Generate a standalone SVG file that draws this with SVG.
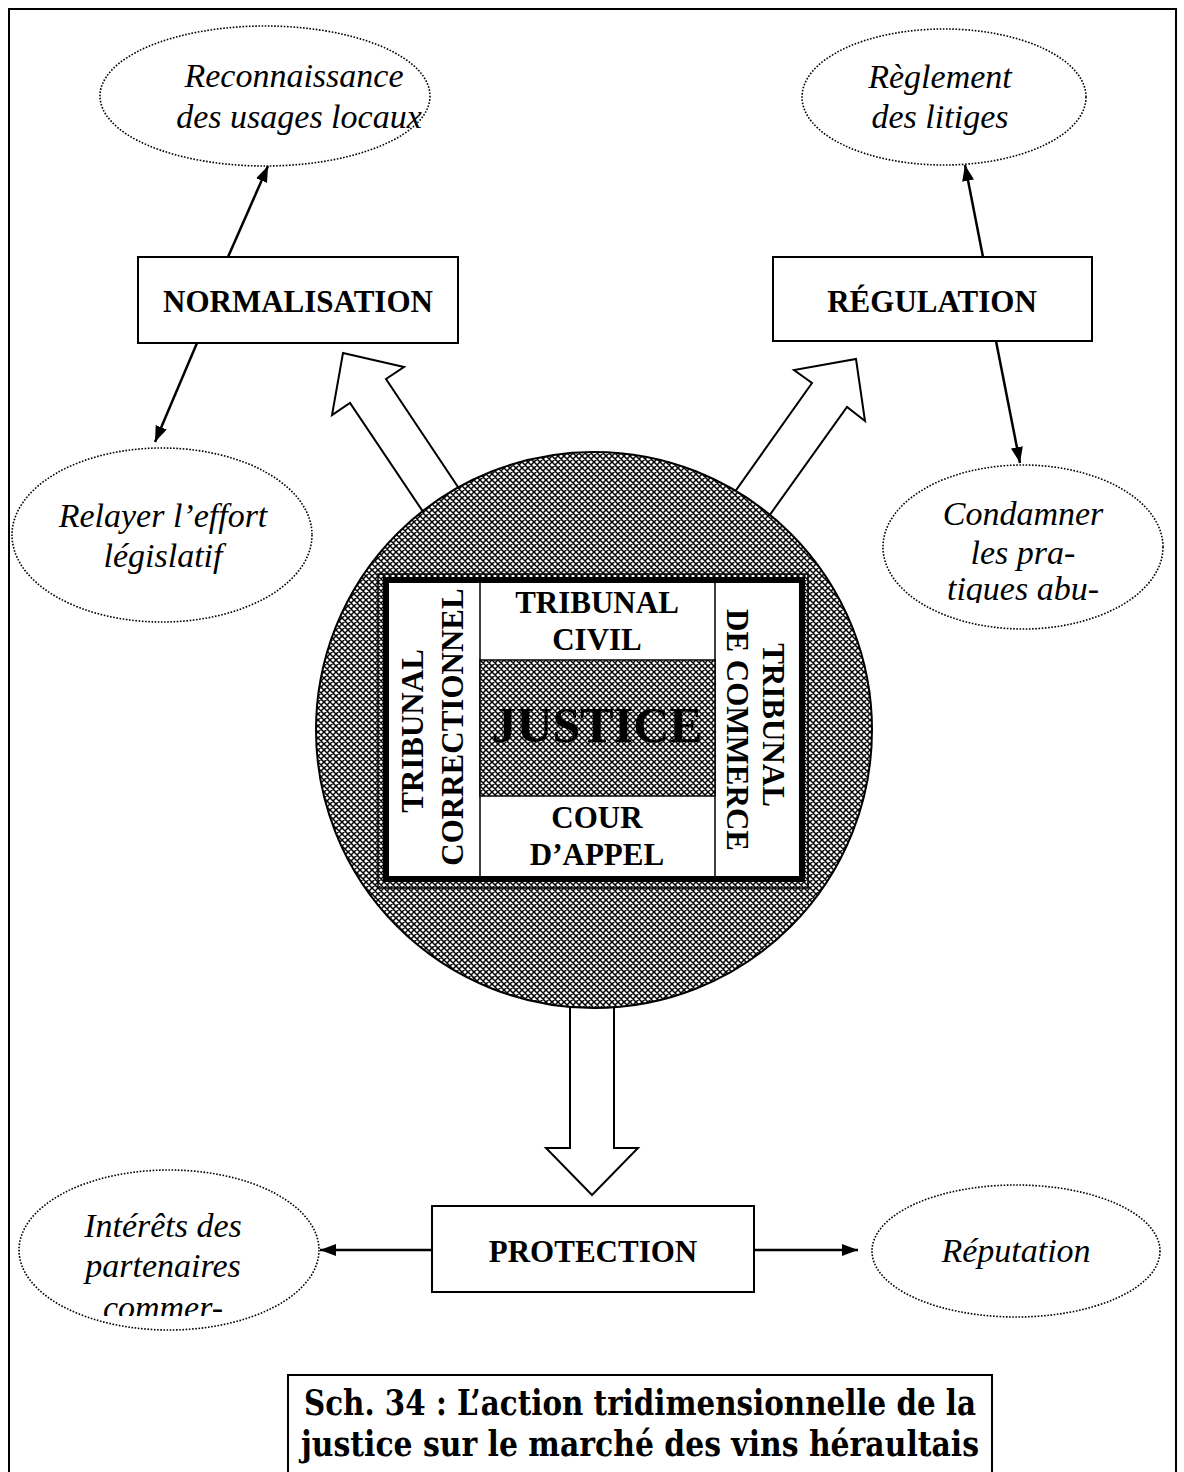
<svg xmlns="http://www.w3.org/2000/svg" width="1184" height="1472" viewBox="0 0 1184 1472">
<defs>
<pattern id="hatch" width="6" height="6" patternUnits="userSpaceOnUse">
<rect width="6" height="6" fill="#ffffff"/>
<path d="M0,0 L6,6 M6,0 L0,6 M-1,5 L1,7 M5,-1 L7,1 M-1,1 L1,-1 M5,7 L7,5" stroke="#000" stroke-width="1.5"/>
</pattern>
<marker id="ah" viewBox="0 0 16 12" refX="16" refY="6" markerWidth="16" markerHeight="12" markerUnits="userSpaceOnUse" orient="auto">
<path d="M0,0 L16,6 L0,12 z" fill="#000"/>
</marker>
<clipPath id="clipCond"><rect x="860" y="440" width="320" height="163"/></clipPath>
<clipPath id="clipInt"><rect x="0" y="1150" width="340" height="166"/></clipPath>
</defs>
<style>
.frame{fill:none;stroke:#000;stroke-width:2}
.box{fill:#fff;stroke:#000;stroke-width:2}
.ell{fill:#fff;stroke:#000;stroke-width:1.6;stroke-dasharray:1.6 1.6}
.lbl{font-family:"Liberation Serif","Times New Roman",serif;font-weight:bold;font-size:31px;text-anchor:middle;fill:#000}
.it{font-family:"Liberation Serif","Times New Roman",serif;font-style:italic;font-size:34px;text-anchor:middle;fill:#000}
.hollow{fill:#fff;stroke:#000;stroke-width:2;stroke-linejoin:miter}
.conn{stroke:#000;stroke-width:2.5;fill:none;marker-end:url(#ah)}
.cap{font-family:"DejaVu Serif","Liberation Serif",serif;font-weight:bold;font-size:36px;text-anchor:middle;fill:#000}
</style>
<rect width="1184" height="1472" fill="#fff"/>
<path class="frame" d="M9,1480 L9,9 L1176,9 L1176,1480"/>

<g id="hollow-arrows">
<polygon class="hollow" points="343,353 404,367 386,379 478,517 442,540 350,403 332,415"/>
<polygon class="hollow" points="856,359 865,421 847,407 759,530 722,510 812,383 794,370"/>
<polygon class="hollow" points="570,990 614,990 614,1148 638,1148 592,1195 546,1148 570,1148"/>
</g>

<g id="justice">
<circle cx="594" cy="730" r="278" fill="url(#hatch)" stroke="#000" stroke-width="2"/>
<rect x="378" y="574" width="430" height="314" fill="none" stroke="#000" stroke-width="1.5"/>
<rect x="386" y="580" width="416" height="299" fill="#fff" stroke="#000" stroke-width="6"/>
<line x1="480" y1="582" x2="480" y2="877" stroke="#000" stroke-width="1.5"/>
<line x1="715" y1="582" x2="715" y2="877" stroke="#000" stroke-width="1.5"/>
<rect x="480" y="660" width="235" height="136" fill="url(#hatch)" stroke="#000" stroke-width="1.5"/>
<text class="lbl" x="597" y="613">TRIBUNAL</text>
<text class="lbl" x="597" y="650">CIVIL</text>
<text class="lbl" x="597" y="742" style="font-size:50px">JUSTICE</text>
<text class="lbl" x="597" y="828">COUR</text>
<text class="lbl" x="597" y="865">D’APPEL</text>
<text class="lbl" transform="translate(423,731) rotate(-90)">TRIBUNAL</text>
<text class="lbl" transform="translate(463,727) rotate(-90)">CORRECTIONNEL</text>
<text class="lbl" transform="translate(763,725) rotate(90)">TRIBUNAL</text>
<text class="lbl" transform="translate(727,730) rotate(90)">DE COMMERCE</text>
</g>

<g id="normalisation">
<rect class="box" x="138" y="257" width="320" height="86"/>
<text class="lbl" x="298" y="312">NORMALISATION</text>
</g>
<g id="regulation">
<rect class="box" x="773" y="257" width="319" height="84"/>
<text class="lbl" x="932" y="312">RÉGULATION</text>
</g>
<g id="protection">
<rect class="box" x="432" y="1206" width="322" height="86"/>
<text class="lbl" x="593" y="1262">PROTECTION</text>
</g>

<g id="e-reconnaissance">
<ellipse class="ell" cx="265" cy="96" rx="165" ry="70"/>
<text class="it" x="294" y="87">Reconnaissance</text>
<text class="it" x="299" y="128">des usages locaux</text>
</g>
<g id="e-reglement">
<ellipse class="ell" cx="944" cy="97" rx="142" ry="68"/>
<text class="it" x="940" y="88">Règlement</text>
<text class="it" x="940" y="128">des litiges</text>
</g>
<g id="e-relayer">
<ellipse class="ell" cx="162" cy="535" rx="150" ry="87"/>
<text class="it" x="163" y="527">Relayer l’effort</text>
<text class="it" x="163" y="567">législatif</text>
</g>
<g id="e-condamner">
<ellipse class="ell" cx="1023" cy="547" rx="140" ry="82"/>
<g clip-path="url(#clipCond)">
<text class="it" x="1023" y="525">Condamner</text>
<text class="it" x="1023" y="564">les pra-</text>
<text class="it" x="1023" y="600">tiques abu-</text>
</g>
</g>
<g id="e-interets">
<ellipse class="ell" cx="169" cy="1250" rx="150" ry="80"/>
<g clip-path="url(#clipInt)">
<text class="it" x="163" y="1237">Intérêts des</text>
<text class="it" x="163" y="1277">partenaires</text>
<text class="it" x="163" y="1319">commer-</text>
</g>
</g>
<g id="e-reputation">
<ellipse class="ell" cx="1016" cy="1251" rx="144" ry="66"/>
<text class="it" x="1016" y="1262">Réputation</text>
</g>

<g id="connectors">
<line class="conn" x1="228" y1="257" x2="268" y2="166"/>
<line class="conn" x1="197" y1="343" x2="155" y2="442"/>
<line class="conn" x1="983" y1="257" x2="965" y2="165"/>
<line class="conn" x1="996" y1="341" x2="1020" y2="463"/>
<line class="conn" x1="432" y1="1250" x2="320" y2="1250"/>
<line class="conn" x1="754" y1="1250" x2="858" y2="1250"/>
</g>

<g id="caption">
<path class="frame" d="M288,1480 L288,1375 L992,1375 L992,1480"/>
<text class="cap" x="640" y="1415" textLength="672" lengthAdjust="spacingAndGlyphs">Sch. 34 : L’action tridimensionnelle de la</text>
<text class="cap" x="640" y="1456" textLength="678" lengthAdjust="spacingAndGlyphs">justice sur le marché des vins héraultais</text>
</g>
</svg>
